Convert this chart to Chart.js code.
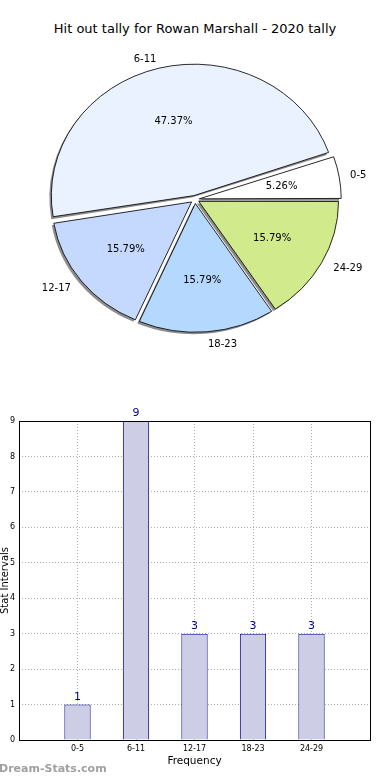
<!DOCTYPE html>
<html>
<head>
<meta charset="utf-8">
<script src="https://cdn.jsdelivr.net/npm/chart.js@4"></script>
<style>
  body { margin: 0; background: #fff; width: 390px; height: 780px; position: relative; overflow: hidden; font-family: "DejaVu Sans", sans-serif; }
  #title { position: absolute; top: 21px; left: 0; width: 390px; text-align: center; font-size: 13px; color: #000; }
  #pie { position: absolute; left: 0; top: 45px; }
  #bar { position: absolute; left: 0; top: 400px; }
  #mark { position: absolute; left: -1px; top: 762px; font-size: 11px; font-weight: bold; color: #a0a0a0; }
</style>
</head>
<body>
<div id="title">Hit out tally for Rowan Marshall - 2020 tally</div>
<canvas id="pie" width="390" height="310"></canvas>
<canvas id="bar" width="390" height="380"></canvas>
<div id="mark">Dream-Stats.com</div>
<script>
const categories = ["0-5", "6-11", "12-17", "18-23", "24-29"];
const tally = [1, 9, 3, 3, 3];
const yTicks = [0, 1, 2, 3, 4, 5, 6, 7, 8, 9];

const pieColors = ["#ffffff", "#eaf2ff", "#c5d9ff", "#b5d8ff", "#d0ea8c"];
const SX = 1.085; // pie is drawn a bit wider than tall
const total = tally.reduce((a, b) => a + b, 0);

// matplotlib draws counter-clockwise from 3 o'clock, Chart.js clockwise -> reverse
const pieLabels = categories.slice().reverse();
const pieData = tally.slice().reverse();
const pieFill = pieColors.slice().reverse();

const pieDecor = {
  id: "pieDecor",
  beforeDatasetsDraw(chart) {
    const ctx = chart.ctx;
    const arcs = chart.getDatasetMeta(0).data;
    const cx = arcs[0].x, cy = arcs[0].y;
    ctx.save();
    ctx.translate(cx, cy);
    ctx.scale(SX, 1);
    ctx.translate(-cx, -cy);
    // shadow pass, below all slices
    ctx.fillStyle = "rgba(0,0,0,0.45)";
    arcs.forEach((a) => {
      const off = a.options.offset / 4;
      const mid = (a.startAngle + a.endAngle) / 2;
      const fix = 1 - Math.sin(Math.min(Math.PI, a.circumference));
      const r = a.outerRadius + off * fix;
      const x = a.x + Math.cos(mid) * off - 2 / SX;
      const y = a.y + Math.sin(mid) * off + 2;
      ctx.beginPath();
      ctx.moveTo(x, y);
      ctx.arc(x, y, r, a.startAngle, a.endAngle);
      ctx.closePath();
      ctx.fill();
    });
  },
  afterDatasetsDraw(chart) {
    const ctx = chart.ctx;
    ctx.restore();
    const arcs = chart.getDatasetMeta(0).data;
    ctx.save();
    ctx.font = "10px 'DejaVu Sans'";
    ctx.fillStyle = "#000";
    ctx.textBaseline = "middle";
    arcs.forEach((a, i) => {
      const off = a.options.offset / 4;
      const mid = (a.startAngle + a.endAngle) / 2;
      const R = a.outerRadius;
      const c = Math.cos(mid), s = Math.sin(mid);
      const pr = 0.6 * R + off;
      ctx.textAlign = "center";
      ctx.fillText((pieData[i] / total * 100).toFixed(2) + "%", a.x + c * pr * SX, a.y + s * pr);
      const lr = 1.1 * R + off;
      ctx.textAlign = c >= 0 ? "left" : "right";
      ctx.fillText(pieLabels[i], a.x + c * lr * SX, a.y + s * lr);
    });
    ctx.restore();
  }
};

new Chart(document.getElementById("pie"), {
  type: "pie",
  data: {
    labels: pieLabels,
    datasets: [{
      data: pieData,
      backgroundColor: pieFill,
      borderColor: "#000",
      borderWidth: 0.8,
      offset: 16,
      hoverOffset: 16
    }]
  },
  options: {
    responsive: false,
    devicePixelRatio: 1,
    animation: false,
    rotation: 90,
    layout: { padding: { top: 18, bottom: 19 } },
    plugins: { legend: { display: false }, tooltip: { enabled: false } }
  },
  plugins: [pieDecor]
});

const barDecor = {
  id: "barDecor",
  afterDraw(chart) {
    const ctx = chart.ctx;
    const area = chart.chartArea;
    ctx.save();
    ctx.strokeStyle = "#000";
    ctx.lineWidth = 1;
    ctx.strokeRect(Math.round(area.left) + 0.5, Math.round(area.top) + 0.5,
      Math.round(area.right - area.left), Math.round(area.bottom - area.top));
    ctx.font = "11px 'DejaVu Sans'";
    ctx.fillStyle = "#00008b";
    ctx.textAlign = "center";
    ctx.textBaseline = "bottom";
    chart.getDatasetMeta(0).data.forEach((b, i) => {
      ctx.fillText(String(tally[i]), b.x, b.y - 2);
    });
    ctx.restore();
  }
};

new Chart(document.getElementById("bar"), {
  type: "bar",
  data: {
    datasets: [{
      data: categories.map((c, i) => ({ x: i, y: tally[i] })),
      backgroundColor: "#cdcde5",
      borderColor: "#00008b",
      borderWidth: 1,
      barPercentage: 0.45,
      categoryPercentage: 1
    }]
  },
  options: {
    responsive: false,
    devicePixelRatio: 1,
    animation: false,
    layout: { padding: { top: 21, right: 20, left: 0, bottom: 12 } },
    plugins: { legend: { display: false }, tooltip: { enabled: false } },
    scales: {
      x: {
        type: "linear",
        min: -1,
        max: 5,
        offset: false,
        z: 1,
        afterFit(scale) { scale.height = 28; },
        ticks: {
          stepSize: 1,
          padding: 4,
          maxRotation: 0,
          autoSkip: false,
          font: { family: "DejaVu Sans", size: 8 },
          color: "#000",
          callback: (v) => categories[v] || ""
        },
        grid: { color: "#b0b0b0", drawTicks: false, offset: false },
        border: { display: false, dash: [1, 2] },
        title: { display: true, text: "Frequency", color: "#000", font: { family: "DejaVu Sans", size: 10.5 }, padding: { top: 2, bottom: 0 } }
      },
      y: {
        min: yTicks[0],
        max: yTicks[yTicks.length - 1],
        z: 1,
        afterFit(scale) { scale.width = 19; },
        afterBuildTicks(scale) { scale.ticks = yTicks.map((v) => ({ value: v })); },
        ticks: {
          padding: 4,
          font: { family: "DejaVu Sans", size: 8 },
          color: "#000"
        },
        grid: { color: "#b0b0b0", drawTicks: false },
        border: { display: false, dash: [1, 2] },
        title: { display: true, text: "Stat Intervals", color: "#000", font: { family: "DejaVu Sans", size: 10, lineHeight: 1 }, padding: 0 }
      }
    }
  },
  plugins: [barDecor]
});
</script>
</body>
</html>
